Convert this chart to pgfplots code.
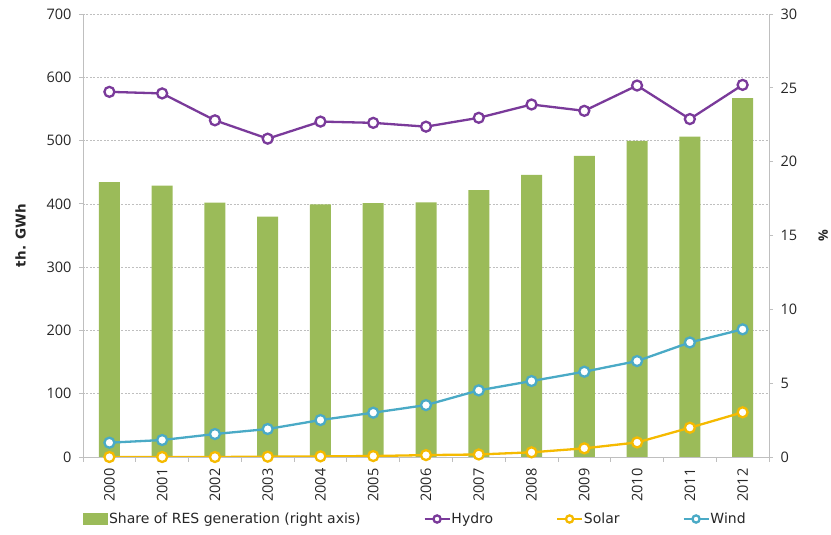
\documentclass[border=0pt]{standalone}
\usepackage{pgfplots}
\pgfplotsset{compat=1.18}
\usepackage{fontspec}
\setmainfont{Open Sans}
\newfontfamily\legfont{DejaVu Sans}
\definecolor{resgreen}{HTML}{9BBB59}
\definecolor{hydro}{HTML}{7A3A9A}
\definecolor{solar}{HTML}{F5BA00}
\definecolor{wind}{HTML}{4AAAC6}
\definecolor{axgray}{HTML}{BFBFBF}
\definecolor{txt}{HTML}{262626}
\pgfplotsset{set layers}
\begin{document}
\begin{tikzpicture}
\begin{axis}[
  width=686pt, height=443pt, scale only axis,
  xmin=-0.5, xmax=12.5, ymin=0, ymax=30,
  axis x line=none, axis y line*=right,
  axis line style={axgray, line width=0.8pt},
  ytick={0,5,...,30},
  tick align=outside, major tick length=4pt,
  tick style={axgray, line width=0.8pt},
  /pgf/number format/assume math mode=true,
  yticklabel style={font=\fontsize{14.5}{16}\selectfont, text=txt, xshift=4pt},
  ylabel={\%},
  ylabel style={at={(axis description cs:1.079,0.5)}, anchor=center, font=\fontsize{13}{15}\selectfont\bfseries, text=txt},
]
\addplot[ybar, bar width=21pt, fill=resgreen, draw=none, bar shift=0pt] coordinates {
(0,18.62) (1,18.37) (2,17.22) (3,16.27) (4,17.1) (5,17.2) (6,17.24)
(7,18.08) (8,19.1) (9,20.4) (10,21.4) (11,21.7) (12,24.3)};
\end{axis}
\begin{axis}[
  width=686pt, height=443pt, scale only axis,
  xmin=-0.5, xmax=12.5, ymin=0, ymax=700,
  axis x line*=bottom, axis y line*=left,
  axis line style={axgray, line width=0.8pt},
  ytick={0,100,...,700},
  ymajorgrids, grid style={axgray, dash pattern=on 2pt off 1.5pt, line width=0.5pt},
  xtick={0,...,12},
  xticklabels={2000,2001,2002,2003,2004,2005,2006,2007,2008,2009,2010,2011,2012},
  minor xtick={-0.5,0.5,...,12.5},
  tick align=outside, major tick length=4pt, minor tick length=5pt,
  major x tick style={draw=none},
  tick style={axgray, line width=0.8pt},
  /pgf/number format/assume math mode=true,
  yticklabel style={font=\fontsize{14.5}{16}\selectfont, text=txt, xshift=-4pt},
  xticklabel style={font=\fontsize{14.5}{16}\selectfont, text=txt, rotate=90, anchor=east, xshift=-4pt},
  ylabel={th. GWh},
  ylabel style={at={(axis description cs:-0.091,0.5)}, anchor=center, font=\legfont\fontsize{13.5}{15}\selectfont\bfseries, text=txt},
  every axis plot/.append style={line width=2.3pt, mark=*, mark size=5pt},
  legend style={at={(axis description cs:-0.005,-0.14)}, anchor=west, draw=none, fill=none,
    font=\legfont\fontsize{14}{16}\selectfont, text=txt,
    nodes={inner sep=1pt},
    /tikz/every even column/.append style={column sep=62pt}},
  legend columns=4,
  legend image code/.code={\draw[mark repeat=2,mark phase=2,#1,line width=1.8pt,mark size=3.6pt] plot coordinates {(0pt,0pt) (12.5pt,0pt) (25pt,0pt)};},
]
\addlegendimage{legend image code/.code={\fill[resgreen] (0pt,-5pt) rectangle (23pt,5pt);}}
\addlegendentry{Share of RES generation (right axis)}
\addplot[hydro, mark options={fill=white, draw=hydro, line width=2.3pt}] coordinates {
(0,577) (1,574.5) (2,532) (3,503) (4,530) (5,528) (6,522)
(7,536) (8,557) (9,547) (10,587) (11,534) (12,588)};
\addlegendentry{Hydro}
\addplot[solar, mark options={fill=white, draw=solar, line width=2.3pt}] coordinates {
(0,0) (1,0) (2,0) (3,0.5) (4,1) (5,1.5) (6,3)
(7,4) (8,7.4) (9,13.7) (10,23) (11,46.3) (12,70.6)};
\addlegendentry{Solar}
\addplot[wind, mark options={fill=white, draw=wind, line width=2.3pt}] coordinates {
(0,22.6) (1,26.8) (2,36.3) (3,44.2) (4,58.4) (5,70) (6,82)
(7,105.3) (8,120) (9,134.8) (10,151.6) (11,181) (12,201.7)};
\addlegendentry{Wind}
\end{axis}
\pgfresetboundingbox
\useasboundingbox (-83pt,-78pt) rectangle (748pt,457pt);
\end{tikzpicture}
\end{document}
